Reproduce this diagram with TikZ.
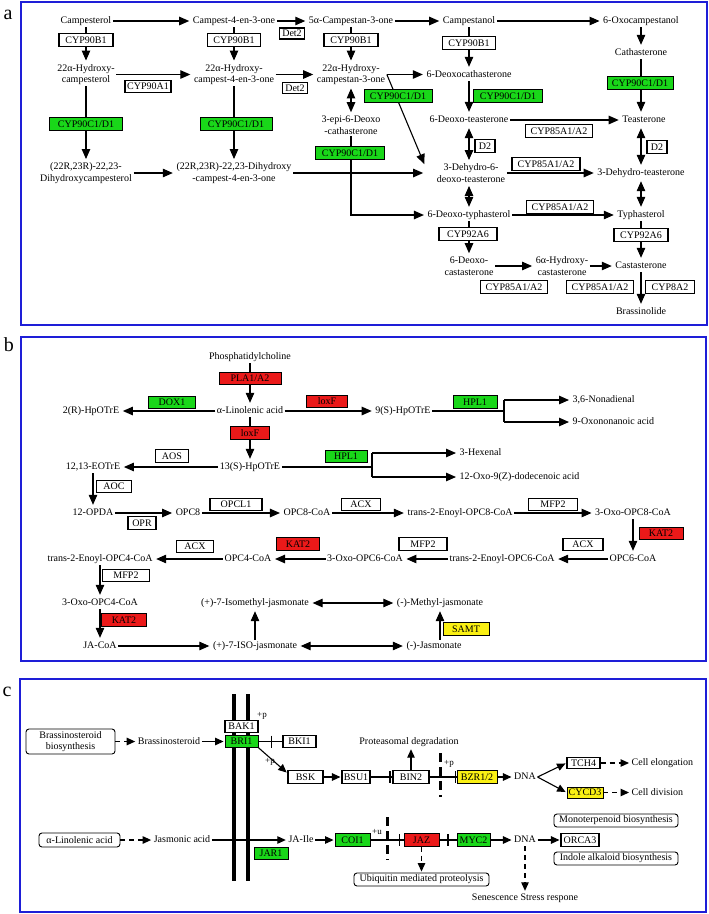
\documentclass[tikz,border=0pt]{standalone}
\usepackage{fontspec}
\setmainfont{Liberation Serif}
\usetikzlibrary{arrows.meta,calc}
\definecolor{kgreen}{RGB}{25,215,25}
\definecolor{kred}{RGB}{235,25,25}
\definecolor{kyellow}{RGB}{250,240,20}
\definecolor{kblue}{RGB}{30,30,215}
\begin{document}
\begin{tikzpicture}[x=1pt,y=-1pt,
  every node/.style={font=\fontsize{10}{11.5}\selectfont},
  t/.style={inner sep=1.5pt,align=center,text height=7pt,text depth=2pt},
  tm/.style={inner sep=1.5pt,align=center},
  tw/.style={inner sep=1.5pt,anchor=west,text height=7pt,text depth=2pt},
  ebox/.style={draw,line width=1.1pt,fill=white,inner sep=0pt,minimum height=12.5pt,text height=6.8pt,text depth=0pt},
  gbox/.style={ebox,fill=kgreen,line width=0.9pt},
  rbox/.style={ebox,fill=kred,line width=0.9pt},
  ybox/.style={ebox,fill=kyellow,line width=0.9pt},
  rbx/.style={draw,line width=0.9pt,rounded corners=3pt,inner sep=0pt,align=center,fill=white},
  ln/.style={line width=1.1pt},
  arr/.style={ln,-{Triangle[length=10pt,width=8.5pt]},shorten >=2pt},
  darr/.style={ln,{Triangle[length=10pt,width=8.5pt]}-{Triangle[length=10pt,width=8.5pt]},shorten >=2pt,shorten <=2pt},
  carr/.style={ln,-{Triangle[length=8.5pt,width=7.5pt]},shorten >=1pt},
  dsh/.style={carr,dash pattern=on 5pt off 4pt},
  thickdash/.style={line width=3pt,dash pattern=on 9pt off 5pt},
  membrane/.style={line width=3.5pt},
  frame/.style={draw=kblue,line width=1.6pt},
  plab/.style={font=\fontsize{20}{20}\selectfont,inner sep=0pt},
  small/.style={font=\fontsize{9}{10}\selectfont,inner sep=0pt},
]
\fill[white] (0,0) rectangle (709,914);
\useasboundingbox (0,0) rectangle (709,914);

%%%%%%%%%%%%%%%% panel a
\draw[frame] (21,2) rectangle (707,325);
\node[plab] (la) at (8,15) {a};
\node[t] (camp) at (86,21) {Campesterol};
\node[t] (c4) at (234,21) {Campest-4-en-3-one};
\node[t] (ca3) at (351,21) {5α-Campestan-3-one};
\node[t] (cnol) at (469,21) {Campestanol};
\node[t] (oxo) at (641,21) {6-Oxocampestanol};
\node[tm] (hc) at (86,74.5) {22α-Hydroxy-\\campesterol};
\node[tm] (hc4) at (234,74.5) {22α-Hydroxy-\\campest-4-en-3-one};
\node[tm] (hca) at (351,74.5) {22α-Hydroxy-\\campestan-3-one};
\node[t] (dct) at (469,75) {6-Deoxocathasterone};
\node[t] (cath) at (641,53) {Cathasterone};
\node[tm] (epi) at (351,125) {3-epi-6-Deoxo\\-cathasterone};
\node[t] (dte) at (469,120) {6-Deoxo-teasterone};
\node[t] (tea) at (644,120) {Teasterone};
\node[tm] (dh) at (86,173) {(22R,23R)-22,23-\\Dihydroxycampesterol};
\node[tm] (dh4) at (234,173) {(22R,23R)-22,23-Dihydroxy\\-campest-4-en-3-one};
\node[tm] (dhd) at (471,173) {3-Dehydro-6-\\deoxo-teasterone};
\node[t] (dht) at (641,173) {3-Dehydro-teasterone};
\node[t] (dty) at (469,215) {6-Deoxo-typhasterol};
\node[t] (typ) at (641,215) {Typhasterol};
\node[tm] (dcs) at (469,266) {6-Deoxo-\\castasterone};
\node[tm] (hcs) at (562,266) {6α-Hydroxy-\\castasterone};
\node[t] (cas) at (641,266) {Castasterone};
\node[t] (bl) at (641,312) {Brassinolide};

\draw[arr] (camp) -- (c4);
\draw[arr] (c4) -- (ca3);
\draw[arr] (ca3) -- (cnol);
\draw[arr] (cnol) -- (oxo);
\draw[arr] (camp) -- (hc);
\draw[arr] (c4) -- (hc4);
\draw[arr] (ca3) -- (hca);
\draw[arr] (hc) -- (hc4);
\draw[arr] (hc4) -- (hca);
\draw[arr] (cnol) -- (dct);
\draw[arr] (oxo) -- (cath);
\draw[arr] (hc) -- (dh);
\draw[arr] (hc4) -- (dh4);
\draw[darr] (hca) -- (epi);
\draw[arr] (dh) -- (dh4);
\draw[arr] (cath) -- (cath |- tea.north);
\draw[arr] (dct) -- (dte);
\draw[arr] (dte) -- (tea);
\draw[darr] (dte.south) -- (dte.south |- dhd.north);
\draw[darr] (tea.south -| cath) -- (cath |- dht.north);
\draw[arr] (hca.east) -- (hca.east -| dct.west);
\draw[arr] (hca.east) -- ([xshift=-10pt,yshift=7pt]dhd.west);
\draw[arr] (dh4.east) -- ([xshift=-10pt]dhd.west);
\draw[arr] (epi.south) |- (dty.west);
\draw[arr] (dhd) -- (dht);
\draw[darr] (dty.north) -- (dty.north |- dhd.south);
\draw[darr] (dht.south -| typ) -- (typ.north);
\draw[arr] (dty) -- (typ);
\draw[arr] (dty) -- (dty |- dcs.north);
\draw[arr] (typ) -- (cas);
\draw[arr] (dcs) -- (hcs);
\draw[arr] (hcs) -- (cas);
\draw[arr] (cas) -- (bl);

\node[ebox,minimum width=54pt] (a1) at (86,40) {CYP90B1};
\node[ebox,minimum width=53pt] (a2) at (234,40) {CYP90B1};
\node[ebox,minimum width=25pt,minimum height=11pt] (a3) at (292,33.5) {Det2};
\node[ebox,minimum width=54pt] (a4) at (351,40) {CYP90B1};
\node[ebox,minimum width=46pt,minimum height=11.5pt] (a5) at (148,86.5) {CYP90A1};
\node[ebox,minimum width=25pt,minimum height=11pt] (a6) at (295,88) {Det2};
\node[gbox,minimum width=73pt] (a7) at (86,124) {CYP90C1/D1};
\node[gbox,minimum width=72pt] (a8) at (236,124) {CYP90C1/D1};
\node[ebox,minimum width=53pt] (a9) at (469,43) {CYP90B1};
\node[gbox,minimum width=68pt] (a10) at (398,96) {CYP90C1/D1};
\node[gbox,minimum width=69pt] (a11) at (508,96) {CYP90C1/D1};
\node[gbox,minimum width=66pt] (a12) at (640,83) {CYP90C1/D1};
\node[gbox,minimum width=69pt] (a13) at (350,153) {CYP90C1/D1};
\node[ebox,minimum width=67pt] (a14) at (559,131) {CYP85A1/A2};
\node[ebox,minimum width=20pt] (a15) at (485,146) {D2};
\node[ebox,minimum width=20pt] (a16) at (657,147) {D2};
\node[ebox,minimum width=68pt] (a17) at (546,164) {CYP85A1/A2};
\node[ebox,minimum width=67pt] (a18) at (560,207) {CYP85A1/A2};
\node[ebox,minimum width=58pt] (a19) at (468,234) {CYP92A6};
\node[ebox,minimum width=54pt] (a20) at (641,235) {CYP92A6};
\node[ebox,minimum width=67pt] (a21) at (514,287) {CYP85A1/A2};
\node[ebox,minimum width=67pt] (a22) at (600,287) {CYP85A1/A2};
\node[ebox,minimum width=49pt] (a23) at (670,287) {CYP8A2};

%%%%%%%%%%%%%%%% panel b
\draw[frame] (21,337) rectangle (706,661);
\node[plab] (lb) at (9,345) {b};
\node[t] (pc) at (250,357) {Phosphatidylcholine};
\node[t] (ala) at (250,411) {α-Linolenic acid};
\node[t] (r2) at (91,411) {2(R)-HpOTrE};
\node[t] (s9) at (403,411) {9(S)-HpOTrE};
\node[t] (s13) at (250,467) {13(S)-HpOTrE};
\node[t] (eot) at (93,467) {12,13-EOTrE};
\node[tw] (non) at (571,400) {3,6-Nonadienal};
\node[tw] (oxn) at (571,422) {9-Oxononanoic acid};
\node[tw] (hex) at (458,453) {3-Hexenal};
\node[tw] (dod) at (458,477) {12-Oxo-9(Z)-dodecenoic acid};
\node[t] (opda) at (93,513) {12-OPDA};
\node[t] (opc8) at (188,513) {OPC8};
\node[t] (opc8c) at (307,513) {OPC8-CoA};
\node[t] (te8) at (460,513) {trans-2-Enoyl-OPC8-CoA};
\node[t] (ox8) at (633,513) {3-Oxo-OPC8-CoA};
\node[t] (opc6) at (633,559) {OPC6-CoA};
\node[t] (te6) at (502,559) {trans-2-Enoyl-OPC6-CoA};
\node[t] (ox6) at (365,559) {3-Oxo-OPC6-CoA};
\node[t] (opc4) at (248,559) {OPC4-CoA};
\node[t] (te4) at (100,559) {trans-2-Enoyl-OPC4-CoA};
\node[t] (ox4) at (100,603) {3-Oxo-OPC4-CoA};
\node[t] (ime) at (255,603) {(+)-7-Isomethyl-jasmonate};
\node[t] (mj) at (440,603) {(-)-Methyl-jasmonate};
\node[t] (jac) at (100,646) {JA-CoA};
\node[t] (iso) at (255,646) {(+)-7-ISO-jasmonate};
\node[t] (jas) at (434,646) {(-)-Jasmonate};

\draw[arr] (pc) -- (ala);
\draw[arr] (ala) -- (r2);
\draw[arr] (ala) -- (s9);
\draw[arr] (ala) -- (s13);
\draw[arr] (s13) -- (eot);
\coordinate (s9b) at (504,411);
\draw[ln] (s9) -- (s9b);
\draw[ln] (s9b |- non) -- (s9b |- oxn);
\draw[arr] (s9b |- non) -- (non);
\draw[arr] (s9b |- oxn) -- (oxn);
\coordinate (s13b) at (372,467);
\draw[ln] (s13) -- (s13b);
\draw[ln] (s13b |- hex) -- (s13b |- dod);
\draw[arr] (s13b |- hex) -- (hex);
\draw[arr] (s13b |- dod) -- (dod);
\draw[arr] (eot) -- (opda);
\draw[arr] (opda) -- (opc8);
\draw[arr] (opc8) -- (opc8c);
\draw[arr] (opc8c) -- (te8);
\draw[arr] (te8) -- (ox8);
\draw[arr] (ox8) -- (opc6);
\draw[arr] (opc6) -- (te6);
\draw[arr] (te6) -- (ox6);
\draw[arr] (ox6) -- (opc4);
\draw[arr] (opc4) -- (te4);
\draw[arr] (te4) -- (ox4);
\draw[arr] (ox4) -- (jac);
\draw[arr] (jac) -- (iso);
\draw[arr] (iso) -- (ime);
\draw[darr] (ime) -- (mj);
\draw[darr] (iso) -- (jas);
\draw[arr] (jas.north -| mj) -- (mj);

\node[rbox,minimum width=62pt] (pla) at (250,378.5) {PLA1/A2};
\node[gbox,minimum width=47pt] (dox) at (172,402.5) {DOX1};
\node[rbox,minimum width=41pt] (lox1) at (327,401.5) {loxF};
\node[rbox,minimum width=39pt] (lox2) at (250,433) {loxF};
\node[ebox,minimum width=33pt] (aos) at (172,456) {AOS};
\node[gbox,minimum width=44pt] (hpl1) at (475,402) {HPL1};
\node[gbox,minimum width=42pt] (hpl2) at (346,456.5) {HPL1};
\node[ebox,minimum width=35pt] (aoc) at (114,486.5) {AOC};
\node[ebox,minimum width=28pt] (opr) at (142,523) {OPR};
\node[ebox,minimum width=52pt] (opcl) at (236,504.5) {OPCL1};
\node[ebox,minimum width=39pt] (acx1) at (361,504.5) {ACX};
\node[ebox,minimum width=49pt] (mfp1) at (553,504.5) {MFP2};
\node[rbox,minimum width=44pt] (kat1) at (661,533.5) {KAT2};
\node[ebox,minimum width=40pt] (acx2) at (583,544.5) {ACX};
\node[ebox,minimum width=48pt] (mfp2) at (423,544) {MFP2};
\node[rbox,minimum width=43pt] (kat2) at (298,544) {KAT2};
\node[ebox,minimum width=37pt] (acx3) at (195,546.5) {ACX};
\node[ebox,minimum width=47pt] (mfp3) at (126,575.5) {MFP2};
\node[rbox,minimum width=45pt] (kat3) at (124,620) {KAT2};
\node[ybox,minimum width=46pt] (samt) at (466,629) {SAMT};

%%%%%%%%%%%%%%%% panel c
\draw[frame] (20,679) rectangle (706,912);
\node[plab] (lc) at (7,692) {c};
\draw[membrane] (234,694) -- (234,881);
\draw[membrane] (248,694) -- (248,881);

\node[rbx,minimum width=89pt,minimum height=25pt] (bsb) at (70.5,741.5) {Brassinosteroid\\biosynthesis};
\node[t] (br) at (169,741.5) {Brassinosteroid};
\node[ebox,minimum width=33pt,minimum height=11.5pt] (bak1) at (241.5,726.5) {BAK1};
\node[gbox,minimum width=33pt,minimum height=11.5pt] (bri1) at (241.5,741.5) {BRI1};
\node[ebox,minimum width=33pt,minimum height=11.5pt] (bki1) at (299.5,741.5) {BKI1};
\node[ebox,minimum width=35pt] (bsk) at (305.5,777) {BSK};
\node[ebox,minimum width=28pt] (bsu1) at (356,777) {BSU1};
\node[ebox,minimum width=36pt] (bin2) at (411,777) {BIN2};
\node[t] (pd) at (409,742) {Proteasomal degradation};
\node[ybox,minimum width=40pt] (bzr) at (477,777) {BZR1/2};
\node[t] (dna1) at (525,777) {DNA};
\node[ebox,minimum width=33pt,minimum height=11pt] (tch4) at (583.5,763) {TCH4};
\node[ybox,minimum width=36pt,minimum height=11pt] (cycd3) at (585,792.5) {CYCD3};
\node[tw] (ce) at (630,763) {Cell elongation};
\node[tw] (cd) at (630,792.5) {Cell division};
\node[rbx,minimum width=81pt,minimum height=14pt] (ala2) at (79.5,840) {α-Linolenic acid};
\node[t] (ja) at (182,840) {Jasmonic acid};
\node[t] (jaile) at (301,840) {JA-Ile};
\node[gbox,minimum width=34pt] (jar1) at (271,853.5) {JAR1};
\node[gbox,minimum width=35pt] (coi1) at (352.5,840) {COI1};
\node[rbox,minimum width=35pt] (jaz) at (421.5,840) {JAZ};
\node[gbox,minimum width=33pt] (myc2) at (473.5,840) {MYC2};
\node[t] (dna2) at (525,840) {DNA};
\node[ebox,minimum width=38pt] (orca3) at (580,840) {ORCA3};
\node[rbx,minimum width=124pt,minimum height=13pt] (mono) at (616,820.5) {Monoterpenoid biosynthesis};
\node[rbx,minimum width=124pt,minimum height=13pt] (indole) at (616,858.5) {Indole alkaloid biosynthesis};
\node[rbx,minimum width=135pt,minimum height=13pt] (ubq) at (421.5,879.5) {Ubiquitin mediated proteolysis};
\node[t] (sen) at (525,898) {Senescence Stress respone};
\node[small] (p1) at (262,716) {+p};
\node[small] (p2) at (270,762) {+p};
\node[small] (p3) at (449,764) {+p};
\node[small] (u1) at (377,831.5) {+u};

\draw[dsh] (bsb) -- (br);
\draw[carr] (br) -- (bri1);
\draw[ln] (bri1) -- (bki1);
\draw[ln] ($(bri1.east)!0.56!(bki1.west)$) ++(0,-6) -- ++(0,12);
\draw[carr] (bri1.south east) -- ([yshift=-3pt]bsk.north west);
\draw[carr] (bsk) -- (bsu1);
\draw[ln] (bsu1) -- (bin2);
\draw[ln] ($(bsu1.east)!0.89!(bin2.west)$) ++(0,-6) -- ++(0,12);
\draw[carr] (bin2.north) -- (bin2.north |- pd.south);
\draw[ln] (bin2) -- (bzr);
\draw[ln] ($(bin2.east)!0.96!(bzr.west)$) ++(0,-6) -- ++(0,12);
\coordinate (cut1) at (440,753);
\draw[thickdash] (cut1) -- ++(0,44);
\draw[carr] (bzr) -- (dna1);
\draw[carr] (dna1.east) -- (tch4.west);
\draw[carr] (dna1.east) -- (cycd3.west);
\draw[dsh] (tch4) -- (ce);
\draw[dsh] (cycd3) -- (cd);
\draw[dsh] (ala2) -- (ja);
\draw[carr] (ja) -- (jaile);
\draw[carr] (jaile) -- (coi1);
\draw[ln] (coi1) -- (jaz);
\draw[ln] ($(coi1.east)!0.88!(jaz.west)$) ++(0,-6) -- ++(0,12);
\coordinate (cut2) at (387,817);
\draw[thickdash] (cut2) -- ++(0,43);
\draw[ln] (jaz) -- (myc2);
\draw[ln] ($(jaz.east)!0.5!(myc2.west)$) ++(0,-6) -- ++(0,12);
\draw[carr] (myc2) -- (dna2);
\draw[carr] (dna2) -- (orca3);
\draw[dsh] (jaz) -- (jaz |- ubq.north);
\draw[dsh] (dna2) -- (dna2 |- sen.north);
\end{tikzpicture}
\end{document}
